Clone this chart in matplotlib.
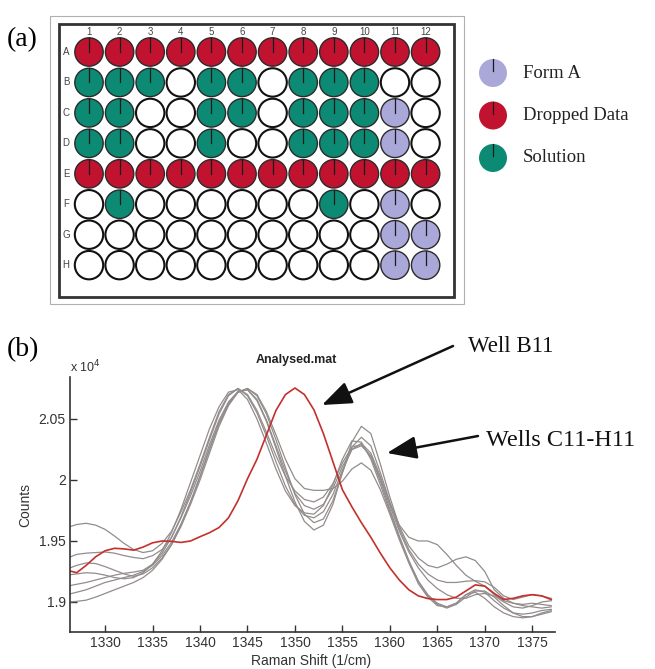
import matplotlib
matplotlib.use("Agg")
import matplotlib.pyplot as plt
from matplotlib.patches import Circle, Rectangle, FancyArrowPatch
from matplotlib.ticker import FixedLocator, FuncFormatter
import numpy as np

# ---------------- plate layout (a) ----------------
row_labels = ["A", "B", "C", "D", "E", "F", "G", "H"]
col_labels = [str(i) for i in range(1, 13)]
# F = Form A, D = Dropped Data, S = Solution, . = empty well
plate_map = [
    "DDDDDDDDDDDD",
    "SSS.SS.SSS..",
    "SS..SS.SSSF.",
    "SS..S..SSSF.",
    "DDDDDDDDDDDD",
    ".S......S.F.",
    "..........FF",
    "..........FF",
]
legend_keys = ["F", "D", "S"]
legend_names = ["Form A", "Dropped Data", "Solution"]
well_colors = {"F": "#aaa7d9", "D": "#c1132f", "S": "#0c8a74"}

# ---------------- Raman spectra (b) ----------------
raman_shift = np.arange(1326, 1378)

well_b11 = [19260, 19240, 19300, 19370, 19420, 19440, 19435, 19425, 19450, 19485,
            19500, 19497, 19488, 19500, 19535, 19568, 19610, 19690, 19830, 20010,
            20170, 20370, 20570, 20700, 20754, 20700, 20575, 20380, 20150, 19920,
            19780, 19650, 19530, 19400, 19280, 19180, 19100, 19050, 19028, 19020,
            19020, 19040, 19090, 19140, 19130, 19070, 19020, 19030, 19050, 19060,
            19050, 19020]

wells_c11_h11 = [
    [19610, 19635, 19645, 19630, 19595, 19540, 19480, 19430, 19405, 19420,
     19480, 19580, 19740, 19920, 20130, 20350, 20560, 20700, 20750, 20690,
     20550, 20360, 20150, 19950, 19800, 19710, 19690, 19740, 19880, 20080,
     20250, 20300, 20220, 20030, 19810, 19630, 19530, 19500, 19500, 19470,
     19390, 19300, 19220, 19170, 19130, 19060, 19010, 18990, 18970, 18960,
     18950, 18960],
    [19360, 19390, 19400, 19405, 19410, 19400, 19380, 19365, 19355, 19380,
     19430, 19530, 19690, 19870, 20070, 20290, 20490, 20640, 20725, 20740,
     20650, 20480, 20260, 20030, 19820, 19660, 19590, 19630, 19800, 20060,
     20310, 20440, 20380, 20130, 19860, 19620, 19460, 19360, 19300, 19280,
     19310, 19350, 19370, 19340, 19250, 19100, 19030, 18990, 18980, 18990,
     18980, 18970],
    [19270, 19300, 19320, 19315, 19290, 19260, 19230, 19210, 19230, 19280,
     19360, 19470, 19620, 19800, 20000, 20220, 20440, 20610, 20720, 20750,
     20690, 20540, 20330, 20100, 19880, 19720, 19650, 19680, 19830, 20060,
     20270, 20350, 20280, 20060, 19820, 19600, 19430, 19310, 19230, 19180,
     19160, 19160, 19170, 19175, 19165, 19120, 19050, 19020, 19040, 19060,
     19050, 19030],
    [19220, 19230, 19240, 19235, 19220, 19200, 19190, 19200, 19240, 19310,
     19420, 19570, 19760, 19980, 20200, 20420, 20600, 20720, 20740, 20660,
     20500, 20300, 20090, 19910, 19790, 19730, 19720, 19790, 19960, 20170,
     20320, 20310, 20170, 19960, 19740, 19530, 19330, 19170, 19060, 18990,
     18960, 18990, 19060, 19100, 19080, 19010, 18950, 18910, 18900, 18910,
     18930, 18940],
    [19130, 19145, 19160, 19180, 19200, 19220, 19235, 19245, 19260, 19310,
     19400, 19530, 19700, 19900, 20110, 20330, 20540, 20690, 20750, 20700,
     20570, 20390, 20200, 20030, 19910, 19840, 19820, 19860, 19970, 20140,
     20270, 20290, 20190, 19990, 19760, 19540, 19340, 19170, 19050, 18980,
     18950, 18980, 19040, 19090, 19090, 19040, 18970, 18910, 18880, 18880,
     18900, 18920],
    [19060, 19080, 19100, 19130, 19160, 19180, 19200, 19220, 19250, 19300,
     19380, 19490, 19640, 19820, 20030, 20250, 20460, 20620, 20720, 20750,
     20700, 20560, 20370, 20170, 20010, 19930, 19915, 19915, 19930, 19990,
     20090, 20140, 20080, 19920, 19720, 19510, 19320, 19150, 19040, 18970,
     18960, 18990, 19060, 19080, 19030, 18960, 18910, 18880, 18870, 18880,
     18910, 18930],
    [19000, 19005, 19015, 19040, 19070, 19100, 19130, 19160, 19200, 19260,
     19350, 19470, 19630, 19820, 20030, 20260, 20470, 20630, 20720, 20740,
     20660, 20490, 20280, 20070, 19890, 19790, 19760, 19800, 19930, 20110,
     20250, 20280, 20200, 20010, 19790, 19580, 19410, 19280, 19180, 19110,
     19060, 19030, 19030, 19060, 19070, 19050, 19000, 18960, 18950, 18970,
     19000, 19010],
]

x_ticks = [1330, 1335, 1340, 1345, 1350, 1355, 1360, 1365, 1370, 1375]
y_ticks = [19000, 19500, 20000, 20500]

W, H = 655, 669
fig = plt.figure(figsize=(W / 100, H / 100), dpi=100)
fig.patch.set_facecolor("white")

serif = ["Liberation Serif", "DejaVu Serif"]
sans = ["Liberation Sans", "DejaVu Sans"]

# ---------------- spectrum axes ----------------
ax = fig.add_axes([70 / W, 37 / H, 485 / W, 255 / H])
for spec in wells_c11_h11:
    ax.plot(raman_shift, spec, color="#938c8c", lw=0.9)
ax.plot(raman_shift, well_b11, color="#c4302b", lw=1.2)
ax.set_xlim(1326.3, 1377.4)
ax.set_ylim(18754, 20844)
for s in ("top", "right"):
    ax.spines[s].set_visible(False)
for s in ("left", "bottom"):
    ax.spines[s].set_color("#333333")
    ax.spines[s].set_linewidth(1.2)
ax.xaxis.set_major_locator(FixedLocator(x_ticks))
ax.yaxis.set_major_locator(FixedLocator(y_ticks))
ax.yaxis.set_major_formatter(FuncFormatter(lambda v, p: f"{v / 1e4:g}"))
ax.tick_params(direction="in", length=5, width=1, colors="#333333",
               labelsize=10)
ax.tick_params(axis="y", pad=3)
ax.tick_params(axis="x", pad=3)
for lab in ax.get_xticklabels() + ax.get_yticklabels():
    lab.set_family(sans)

# ---------------- overlay in pixel coordinates ----------------
ov = fig.add_axes([0, 0, 1, 1])
ov.set_xlim(0, W)
ov.set_ylim(H, 0)
ov.set_facecolor("none")
ov.axis("off")

# axis titles of the spectrum panel
ov.text(311, 661, "Raman Shift (1/cm)", ha="center", va="center",
        fontsize=10, family=sans, color="#333333")
ov.text(25, 505, "Counts", ha="center", va="center", rotation=90,
        fontsize=10, family=sans, color="#333333")

# plate frames
ov.add_patch(Rectangle((50, 16), 414, 288, fill=False, ec="#b0b0b0", lw=0.8))
ov.add_patch(Rectangle((59, 24), 395, 273, fill=False, ec="#333333", lw=2.0))

x0, dx = 89, 30.6
y0, dy = 52, 30.45
r = 14.2
for i, row in enumerate(plate_map):
    for j, key in enumerate(row):
        cx, cy = x0 + j * dx, y0 + i * dy
        if key == ".":
            ov.add_patch(Circle((cx, cy), r, fc="white", ec="#111111", lw=1.5))
        else:
            ov.add_patch(Circle((cx, cy), r, fc=well_colors[key],
                                ec="#2a2a2a", lw=1.0))
            ov.plot([cx, cx], [cy - r, cy], color="#1a1a1a", lw=0.9)
for j, lab in enumerate(col_labels):
    ov.text(x0 + j * dx, 32, lab, ha="center", va="center", fontsize=7,
            family=sans, color="#444444")
for i, lab in enumerate(row_labels):
    ov.text(66, y0 + i * dy, lab, ha="center", va="center", fontsize=7,
            family=sans, color="#444444")

# legend
for k, (key, name) in enumerate(zip(legend_keys, legend_names)):
    cy = 73 + k * 42.5
    ov.add_patch(Circle((493, cy), 14, fc=well_colors[key], ec="none"))
    ov.plot([493, 493], [cy - 14, cy - 2], color="#1a1a1a", lw=0.9)
    ov.text(523, cy, name, ha="left", va="center", fontsize=13.5,
            family=serif, color="#222222")

ov.text(7, 40, "(a)", ha="left", va="center", fontsize=20, family=serif)
ov.text(7, 350, "(b)", ha="left", va="center", fontsize=20, family=serif)

# spectrum header texts
ov.text(296, 360, "Analysed.mat", ha="center", va="center", fontsize=9,
        family=sans, weight="bold", color="#222222")
ov.text(70, 367, r"x 10$^{4}$", ha="left", va="center", fontsize=9,
        family=sans, color="#333333")

# annotations
ov.text(468, 346, "Well B11", ha="left", va="center", fontsize=16.5,
        family=serif, color="#111111")
ov.text(486, 440, "Wells C11-H11", ha="left", va="center", fontsize=17.5,
        family=serif, color="#111111")
for p0, p1 in [((453, 346), (322, 405)), ((478, 436), (387, 453))]:
    ov.add_patch(FancyArrowPatch(p0, p1, arrowstyle="-|>,head_length=1.3,head_width=0.5",
                                 mutation_scale=14, lw=1.8, color="#111111",
                                 shrinkA=0, shrinkB=0))

fig.savefig("out.png", dpi=100, facecolor="white")
